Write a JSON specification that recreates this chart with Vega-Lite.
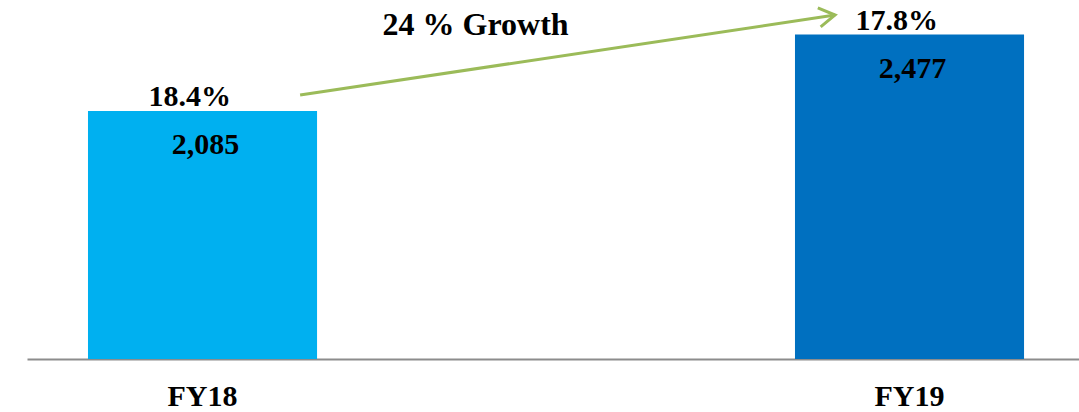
{
  "$schema": "https://vega.github.io/schema/vega-lite/v6.json",
  "width": 1052,
  "height": 359,
  "autosize": "none",
  "padding": {"left": 27, "top": 0, "right": 0, "bottom": 53},
  "background": "white",
  "config": {"view": {"stroke": null}, "font": "Liberation Serif"},
  "datasets": {
    "bars": [
      {"year": "FY18", "revenue": 2085, "margin": "18.4%", "label": "2,085"},
      {"year": "FY19", "revenue": 2477, "margin": "17.8%", "label": "2,477"}
    ],
    "growth": [
      {"from": "FY18", "to": "FY19", "startLevel": 2167, "endLevel": 2577, "text": "24 % Growth", "textLevel": 2476}
    ]
  },
  "layer": [
    {
      "data": {"name": "bars"},
      "mark": {"type": "bar"},
      "encoding": {
        "x": {
          "field": "year", "type": "nominal",
          "scale": {"paddingInner": 0.676, "paddingOuter": 0.082, "align": 0.526},
          "axis": {
            "title": null, "ticks": false, "labelAngle": 0,
            "labelFont": "Liberation Serif", "labelFontSize": 30, "labelFontWeight": "bold",
            "labelColor": "#000000", "labelBaseline": "alphabetic", "labelPadding": 46,
            "domainColor": "#8c8c8c", "domainWidth": 2, "grid": false
          }
        },
        "y": {
          "field": "revenue", "type": "quantitative",
          "scale": {"domain": [814, 2654], "zero": false, "nice": false, "clamp": true},
          "axis": null
        },
        "y2": {"datum": 814},
        "color": {"field": "year", "type": "nominal", "scale": {"range": ["#00B0F0", "#0070C0"]}, "legend": null}
      }
    },
    {
      "data": {"name": "bars"},
      "mark": {"type": "text", "font": "Liberation Serif", "fontSize": 30, "fontWeight": "bold", "color": "#000000", "baseline": "alphabetic", "align": "center", "dy": -5},
      "encoding": {
        "x": {"field": "year", "type": "nominal", "bandPosition": 0.444},
        "y": {"field": "revenue", "type": "quantitative"},
        "text": {"field": "margin"}
      }
    },
    {
      "data": {"name": "bars"},
      "mark": {"type": "text", "font": "Liberation Serif", "fontSize": 30, "fontWeight": "bold", "color": "#000000", "baseline": "alphabetic", "align": "center", "dy": 43},
      "encoding": {
        "x": {"field": "year", "type": "nominal", "bandPosition": 0.513},
        "y": {"field": "revenue", "type": "quantitative"},
        "text": {"field": "label"}
      }
    },
    {
      "data": {"name": "growth"},
      "mark": {"type": "rule", "color": "#9BBB59", "strokeWidth": 3},
      "encoding": {
        "x": {"field": "from", "type": "nominal", "bandPosition": 0.926},
        "x2": {"field": "to", "bandPosition": 0.175},
        "y": {"field": "startLevel", "type": "quantitative"},
        "y2": {"field": "endLevel"}
      }
    },
    {
      "data": {"name": "growth"},
      "mark": {"type": "point", "shape": "M-1,-0.6L0,0L-1,0.6", "filled": false, "stroke": "#9BBB59", "strokeWidth": 3, "size": 1024, "angle": -8.5, "opacity": 1},
      "encoding": {
        "x": {"field": "to", "type": "nominal", "bandPosition": 0.175},
        "y": {"field": "endLevel", "type": "quantitative"}
      }
    },
    {
      "data": {"name": "growth"},
      "mark": {"type": "text", "font": "Liberation Serif", "fontSize": 32, "fontWeight": "bold", "color": "#000000", "baseline": "alphabetic", "align": "center"},
      "encoding": {
        "x": {"field": "from", "type": "nominal", "bandPosition": 1.692},
        "y": {"field": "textLevel", "type": "quantitative"},
        "text": {"field": "text"}
      }
    }
  ]
}
